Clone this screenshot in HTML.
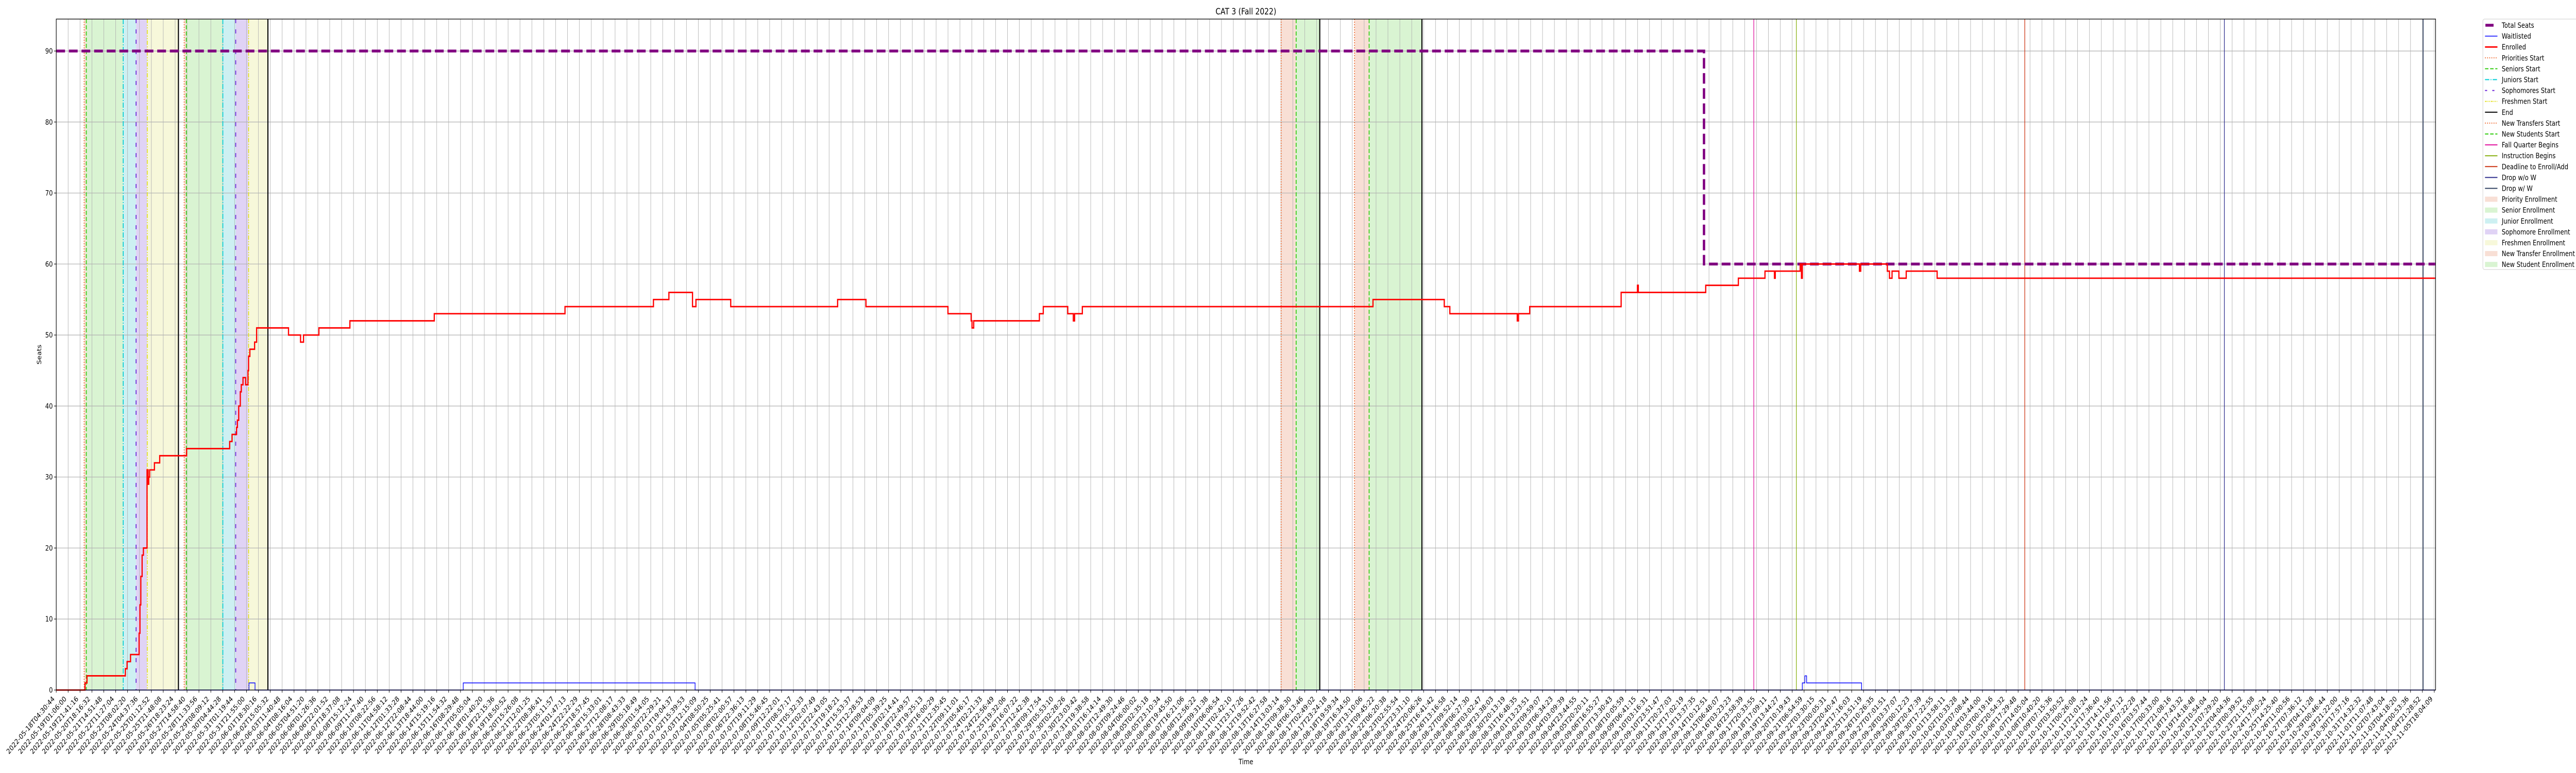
<!DOCTYPE html>
<html><head><meta charset="utf-8">
<style>
html,body{margin:0;padding:0;background:#fff;overflow:hidden;width:100vw;height:100vh;}
svg{display:block;width:100vw;height:100vh;font-family:"DejaVu Sans","Liberation Sans",sans-serif;}
</style></head>
<body>
<svg id="chart" viewBox="0 0 6000 1500" preserveAspectRatio="none" xmlns="http://www.w3.org/2000/svg">
<rect x="0" y="0" width="6000" height="1500" fill="#fff"/>
<text x="2902" y="28" font-size="16.7" text-anchor="middle">CAT 3 (Fall 2022)</text>
<text x="2902" y="1483" font-size="13.9" text-anchor="middle">Time</text>
<text transform="translate(96,688) rotate(-90)" font-size="13.9" text-anchor="middle">Seats</text>
<g id="shades"></g>
<g id="grid"></g>
<g id="events"></g>
<g id="series"></g>
<g id="axes"></g>
<g id="legend"></g>
</svg>
<script>
// ---- data (x in days since 2022-05-18T04:30:44) ----
const enrolledX = [0,2.075,2.218,4.987,5.111,5.359,5.978,6.040,6.102,6.195,6.288,6.551,6.628,6.675,6.740,7.084,7.465,9.407,12.513,12.684,13.009,13.071,13.164,13.279,13.350,13.474,13.660,13.833,13.876,13.969,14.310,14.456,16.757,17.624,17.841,18.950,21.186,27.273,36.704,43.085,44.200,45.903,46.151,48.660,56.373,58.417,64.333,66.006,66.068,66.191,70.930,71.209,72.975,73.377,73.470,74.028,94.997,100.139,100.542,105.405,105.497,106.303,112.900,114.077,114.139,119.002,121.356,123.277,123.958,124.020,125.816,125.909,125.971,130.091,130.184,132.104,132.259,132.445,132.940,133.467,135.697,171.63];
const enrolledY = [0,1,2,3,4,5,8,12,16,19,20,31,29,30,31,32,33,34,35,36,37,38,40,42,43,44,43,45,47,48,49,51,50,49,50,51,52,53,54,55,56,54,55,54,55,54,53,52,51,52,53,54,53,52,53,54,55,54,53,52,53,54,56,57,56,57,58,59,58,59,60,58,60,59,60,59,58,59,58,59,58,58];
const waitX = [0,13.907,14.341,29.363,46.09,125.971,126.157,126.281,130.246,171.63];
const waitY = [0,1,0,1,0,1,2,1,0,0];
const seatsX = [0,118.878,171.63];
const seatsY = [90,60,60];
const prioStart = [2.013,9.230];
const seniorStart = [2.168,9.385];
const juniorStart = [4.832,12.018];
const sophStart = [5.761,12.947];
const freshStart = [6.566,13.876];
const endDays = [8.815,15.271,91.157,98.528];
const transferStart = [88.37,93.665];
const newStudentStart = [89.453,94.719];
const fallBegins = [122.47];
const instructionBegins = [125.54];
const deadlineAdd = [142.02];
const dropNoW = [156.42];
const dropW = [170.76];
const yTicks = [0,10,20,30,40,50,60,70,80,90];
const tickCount = 201;
const startMs = Date.UTC(2022,4,18,4,30,44);
const endMs = Date.UTC(2022,10,5,18,4,9);
const tickLabels = [];
for (let i=0;i<tickCount;i++){ tickLabels.push(new Date(startMs+(endMs-startMs)*i/(tickCount-1)).toISOString().slice(0,19)); }
const tickDays = tickLabels.map((l,i)=> (endMs-startMs)/86400000*i/(tickCount-1));

// ---- scales ----
const L=131,R=5673,T=37,B=1339;
const XMAX=171.66, YMIN=0, YMAX=94.5;
const xs=d=>L+d/XMAX*(R-L);
const ys=v=>B-(v-YMIN)/(YMAX-YMIN)*(B-T);
const NS='http://www.w3.org/2000/svg';
function mk(tag,attrs,parent){const e=document.createElementNS(NS,tag);for(const k in attrs)e.setAttribute(k,attrs[k]);parent.appendChild(e);return e;}
const g=id=>document.getElementById(id);

// shades
function shade(a,b,color,name){
  const r=mk('rect',{x:xs(a),y:T,width:xs(b)-xs(a),height:B-T,fill:color},g('shades'));
  
  
}
for(let i=0;i<2;i++){
  shade(prioStart[i],seniorStart[i],'#f8dfd5','priority-enrollment-shade');
  shade(seniorStart[i],juniorStart[i],'#d9f4d2','senior-enrollment-shade');
  shade(juniorStart[i],sophStart[i],'#cdf0f2','junior-enrollment-shade');
  shade(sophStart[i],freshStart[i],'#e0d3f5','sophomore-enrollment-shade');
  shade(freshStart[i],endDays[i],'#f7f8da','freshmen-enrollment-shade');
}
for(let i=0;i<2;i++){
  shade(transferStart[i],newStudentStart[i],'#f8dfd5','new-transfer-enrollment-shade');
  shade(newStudentStart[i],endDays[i+2],'#d9f4d2','new-student-enrollment-shade');
}

// grid
tickDays.forEach(d=>{
  const l=mk('line',{x1:xs(d),x2:xs(d),y1:T,y2:B,stroke:'#b0b0b0','stroke-width':1},g('grid'));
  
  
});
yTicks.forEach(v=>{
  const l=mk('line',{x1:L,x2:R,y1:ys(v),y2:ys(v),stroke:'#b0b0b0','stroke-width':1.2},g('grid'));
  
  
});

// event lines
function vline(d,color,dash,w,name){
  const a={x1:xs(d),x2:xs(d),y1:T,y2:B,stroke:color,'stroke-width':w};
  if(dash)a['stroke-dasharray']=dash;
  const l=mk('line',a,g('events'));
  
  
}
prioStart.forEach(d=>vline(d,'#f06a30','2,3',2,'priorities-start-line'));
seniorStart.forEach(d=>vline(d,'#33cc11','8,4',2,'seniors-start-line'));
juniorStart.forEach(d=>vline(d,'#00ccd6','10,3,2,3',2,'juniors-start-line'));
sophStart.forEach(d=>vline(d,'#6a22d8','8,12',2,'sophomores-start-line'));
freshStart.forEach(d=>vline(d,'#e2e020','8,3,2,3,2,3',2,'freshmen-start-line'));
endDays.forEach(d=>vline(d,'#000','',2.5,'end-line'));
transferStart.forEach(d=>vline(d,'#f06a30','2,3',2,'new-transfers-start-line'));
newStudentStart.forEach(d=>vline(d,'#33cc11','8,4',2,'new-students-start-line'));
fallBegins.forEach(d=>vline(d,'#e0119e','',1.5,'fall-quarter-begins-line'));
instructionBegins.forEach(d=>vline(d,'#88b010','',1.5,'instruction-begins-line'));
deadlineAdd.forEach(d=>vline(d,'#cc3311','',1.5,'deadline-enroll-add-line'));
dropNoW.forEach(d=>vline(d,'#2e2e8e','',1.5,'drop-without-w-line'));
dropW.forEach(d=>vline(d,'#2f3f5f','',2,'drop-with-w-line'));

// series
function stepPath(X,Y){let p='M'+xs(X[0])+','+ys(Y[0]);for(let i=1;i<X.length;i++){p+='H'+xs(X[i])+'V'+ys(Y[i]);}return p;}
const seats=mk('path',{d:stepPath(seatsX,seatsY),fill:'none',stroke:'#800080','stroke-width':5.5,'stroke-dasharray':'20.5,8.9'},g('series'));


const wl=mk('path',{d:stepPath(waitX,waitY),fill:'none',stroke:'#0000ff','stroke-width':1.5},g('series'));


const en=mk('path',{d:stepPath(enrolledX,enrolledY),fill:'none',stroke:'#ff0000','stroke-width':2.8},g('series'));



// axes
const frame=mk('rect',{x:L,y:T,width:R-L,height:B-T,fill:'none',stroke:'#000','stroke-width':1.3},g('axes'));


tickDays.forEach((d,i)=>{
  const x=xs(d);
  const t=mk('line',{x1:x,x2:x,y1:B,y2:B+5,stroke:'#000','stroke-width':1.1},g('axes'));
  
  
  const px=x-3, py=B+18;
  const tx=mk('text',{x:px,y:py,'font-size':13.9,'text-anchor':'end',transform:`rotate(-45 ${px} ${py})`},g('axes'));
  tx.textContent=tickLabels[i];
  
  
});
yTicks.forEach(v=>{
  const y=ys(v);
  const t=mk('line',{x1:L-5,x2:L,y1:y,y2:y,stroke:'#000','stroke-width':1.1},g('axes'));
  
  
  const tx=mk('text',{x:L-8,y:y+5,'font-size':13.9,'text-anchor':'end'},g('axes'));
  tx.textContent=String(v);
  
  
});

// legend
const legendLabels=['Total Seats','Waitlisted','Enrolled','Priorities Start','Seniors Start','Juniors Start','Sophomores Start','Freshmen Start','End','New Transfers Start','New Students Start','Fall Quarter Begins','Instruction Begins','Deadline to Enroll/Add','Drop w/o W','Drop w/ W','Priority Enrollment','Senior Enrollment','Junior Enrollment','Sophomore Enrollment','Freshmen Enrollment','New Transfer Enrollment','New Student Enrollment'];
const legendColors=['#800080','#0000ff','#ff0000','#f06a30','#33cc11','#00ccd6','#6a22d8','#e2e020','#000000','#f06a30','#33cc11','#e0119e','#88b010','#cc3311','#2e2e8e','#2f3f5f','#f8dfd5','#d9f4d2','#cdf0f2','#e0d3f5','#f7f8da','#f8dfd5','#d9f4d2'];
const legendDash=['','','','2,3','8,4','10,3,2,3','5,12','4,2,2,2,2,2','','2,3','8,4','','','','','','','','','','','',''];
const legendWidth=[5.5,1.5,2.8,2,2,2,2,2,2,2,2,2,2,2,2,2,0,0,0,0,0,0,0];
const lb=mk('rect',{x:5783,y:37,width:222,height:486,rx:4,fill:'#fff','fill-opacity':0.8,stroke:'#cccccc','stroke-width':1},g('legend'));


legendLabels.forEach((lab,i)=>{
  const cy=49+i*21.1;
  const grp=mk('g',{},g('legend'));
  
  
  if(legendWidth[i]>0){
    const a={x1:i===0?5789:5788,x2:i===0?5808:5817,y1:cy,y2:cy,stroke:legendColors[i],'stroke-width':legendWidth[i]};
    if(legendDash[i])a['stroke-dasharray']=legendDash[i];
    mk('line',a,grp);
  } else {
    mk('rect',{x:5788,y:cy-5,width:29,height:10,fill:legendColors[i]},grp);
  }
  const t=mk('text',{x:5827,y:cy+5,'font-size':13.9},grp);
  t.textContent=lab;
});
</script>
</body></html>
